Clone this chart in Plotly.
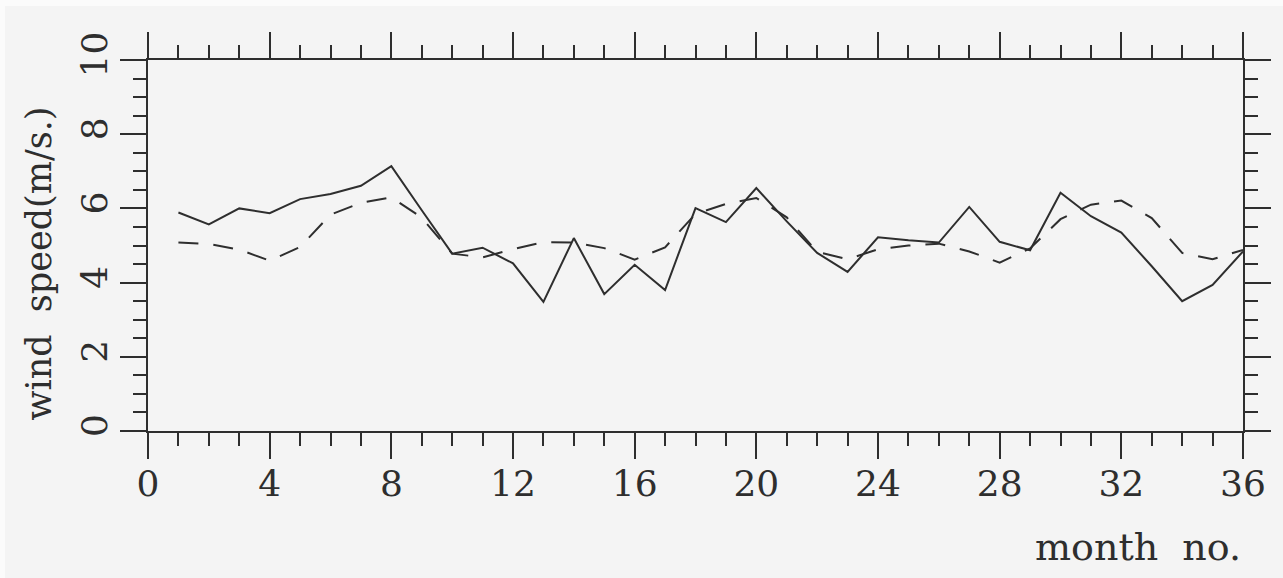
import plotly.graph_objects as go

# monthly mean wind speed, two records (m/s)
months = list(range(1, 37))
speed_solid = [5.89, 5.57, 6.00, 5.87, 6.25, 6.39, 6.61, 7.14, 5.95, 4.78, 4.94, 4.52,
               3.48, 5.20, 3.69, 4.48, 3.80, 6.01, 5.63, 6.55, 5.65, 4.80, 4.29, 5.22,
               5.14, 5.08, 6.04, 5.10, 4.87, 6.42, 5.79, 5.35, 4.44, 3.50, 3.94, 4.84]
speed_dashed = [5.08, 5.04, 4.89, 4.59, 4.96, 5.83, 6.15, 6.30, 5.75, 4.78, 4.68, 4.90,
                5.09, 5.08, 4.93, 4.62, 4.95, 5.85, 6.12, 6.28, 5.76, 4.83, 4.63, 4.90,
                5.00, 5.05, 4.84, 4.54, 4.92, 5.71, 6.10, 6.21, 5.74, 4.80, 4.63, 4.88]

x_ticks = list(range(0, 37, 4))
y_ticks = list(range(0, 11, 2))

INK = "#2e2e2e"
BG = "#f4f4f4"
FONT = "DejaVu Serif"

W, H = 1283, 578
ML, MR, MT, MB = 148, 40, 60, 147
PW, PH = W - ML - MR, H - MT - MB

fig = go.Figure()
fig.add_trace(go.Scatter(x=months, y=speed_solid, mode="lines",
                         line=dict(color=INK, width=2), showlegend=False))
fig.add_trace(go.Scatter(x=months, y=speed_dashed, mode="lines",
                         line=dict(color=INK, width=2, dash="20px,15px"),
                         showlegend=False))

axis_common = dict(showgrid=False, zeroline=False, showline=True, linecolor=INK,
                   linewidth=2, mirror="ticks", ticks="outside", ticklen=26,
                   tickwidth=2, tickcolor=INK,
                   tickfont=dict(family=FONT, size=36, color=INK))

fig.update_xaxes(range=[0, 36], tickvals=x_ticks,
                 minor=dict(ticks="outside", ticklen=13, tickwidth=2,
                            tickcolor=INK, dtick=1, tick0=0),
                 ticklabelstandoff=-6, **axis_common)
fig.update_yaxes(range=[0, 10], tickvals=y_ticks, tickangle=-90,
                 minor=dict(ticks="outside", ticklen=13, tickwidth=2,
                            tickcolor=INK, dtick=0.5, tick0=0),
                 ticklabelstandoff=-1, **axis_common)

fig.add_annotation(text="wind&nbsp;&nbsp;speed(m/s.)", xref="paper", yref="paper",
                   x=0, y=0.5, xanchor="center", yanchor="middle", xshift=-110,
                   yshift=-18, textangle=-90, showarrow=False,
                   font=dict(family=FONT, size=35, color=INK))
fig.add_annotation(text="month&nbsp;&nbsp;no.", xref="paper", yref="paper",
                   x=1, y=0, xanchor="right", yanchor="middle", yshift=-116,
                   showarrow=False, font=dict(family=FONT, size=38, color=INK))

# pale scanner margin along the top and left edges
fig.add_shape(type="rect", xref="paper", yref="paper", layer="below",
              x0=-ML / PW, x1=(W - ML) / PW, y0=1 + (MT - 6) / PH, y1=1 + MT / PH,
              line=dict(width=0), fillcolor="#fbfbfb")
fig.add_shape(type="rect", xref="paper", yref="paper", layer="below",
              x0=-ML / PW, x1=(5 - ML) / PW, y0=-MB / PH, y1=1 + MT / PH,
              line=dict(width=0), fillcolor="#fbfbfb")

fig.update_layout(width=W, height=H,
                  margin=dict(l=ML, r=MR, t=MT, b=MB),
                  paper_bgcolor=BG, plot_bgcolor=BG)

fig.write_html("out.html")
